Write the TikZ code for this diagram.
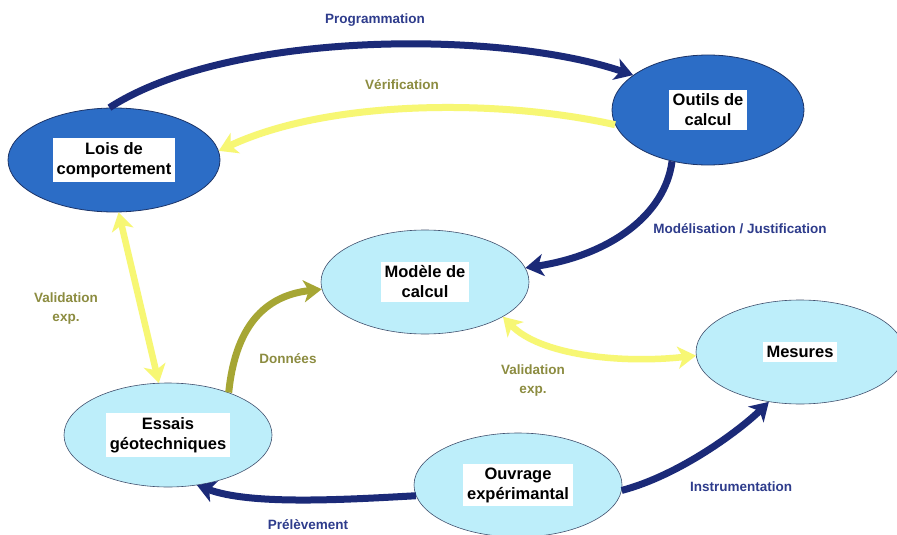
\documentclass[tikz,border=0pt]{standalone}
\usepackage{fontspec}
\setmainfont{Liberation Sans}
\usetikzlibrary{shapes.geometric,arrows.meta}
\definecolor{darkfill}{HTML}{2C6DC6}
\definecolor{darkline}{HTML}{1C3468}
\definecolor{lightfill}{HTML}{BDEEFA}
\definecolor{lightline}{HTML}{41506E}
\definecolor{navy}{HTML}{1B2A78}
\definecolor{navytext}{HTML}{2E3C8C}
\definecolor{paleyellow}{HTML}{F7F774}
\definecolor{olive}{HTML}{A6A634}
\definecolor{olivetext}{HTML}{8C8C40}
\tikzset{
  ell/.style={ellipse, inner sep=0pt},
  darkell/.style={ell, fill=darkfill, draw=darkline, line width=0.8pt},
  lightell/.style={ell, fill=lightfill, draw=lightline, line width=0.6pt},
  txtbox/.style={fill=white, inner sep=4pt, align=center,
    font=\fontsize{16.5}{20}\selectfont\bfseries, text=black},
  lbl/.style={align=center, font=\fontsize{13.5}{19}\selectfont\bfseries},
  navylbl/.style={lbl, text=navytext},
  olivelbl/.style={lbl, text=olivetext},
  flow/.style={line width=7pt, -{Stealth[length=18pt,width=22pt,inset=5pt]}},
  navyflow/.style={flow, draw=navy},
  yellowflow/.style={flow, draw=paleyellow},
  oliveflow/.style={flow, draw=olive},
  twoway/.style={line width=6.5pt, draw=paleyellow,
    {Stealth[length=18pt,width=22pt,inset=5pt]}-{Stealth[length=18pt,width=22pt,inset=5pt]}}
}
\begin{document}
\begin{tikzpicture}[x=1pt,y=-1pt]
\useasboundingbox (0,0) rectangle (897,535);
\fill[white] (0,0) rectangle (897,535);

% ellipses
\node[darkell, minimum width=212pt, minimum height=104pt] (lois) at (114,160) {};
\node[darkell, minimum width=192pt, minimum height=110pt] (outils) at (708,110) {};
\node[lightell, minimum width=208pt, minimum height=104pt] (modele) at (425,282) {};
\node[lightell, minimum width=208pt, minimum height=104pt] (mesures) at (800,352) {};
\node[lightell, minimum width=208pt, minimum height=104pt] (ouvrage) at (518,485) {};
\node[lightell, minimum width=208pt, minimum height=104pt] (essais) at (168,435) {};

% connectors
\draw[navyflow] (lois.95) .. controls (230,30) and (500,30) .. (outils.155);
\draw[yellowflow] (outils.189) .. controls (500,99) and (330,99) .. (lois.5);
\draw[navyflow] (outils.235) .. controls (665,215) and (610,255) .. (modele.8);
\draw[twoway] (lois.275) -- (essais.100);
\draw[oliveflow] (essais.35) .. controls (236,320) and (270,295) .. (modele.184);
\draw[twoway] (modele.-24) .. controls (540,355) and (620,364) .. (mesures.182);
\draw[navyflow] (ouvrage.-3) .. controls (680,475) and (740,430) .. (mesures.238);
\draw[navyflow] (ouvrage.186) .. controls (340,500) and (250,505) .. (essais.-60);

% texts inside the ellipses
\node[txtbox] (loistxt) at (lois) {Lois de\\comportement};
\node[txtbox] (outilstxt) at (outils) {Outils de\\calcul};
\node[txtbox] (modeletxt) at (modele) {Modèle de\\calcul};
\node[txtbox] (mesurestxt) at (mesures) {Mesures};
\node[txtbox] (ouvragetxt) at (ouvrage) {Ouvrage\\expérimantal};
\node[txtbox] (essaistxt) at (essais) {Essais\\géotechniques};

% connector labels
\node[navylbl] (lprog) at (375,20) {Programmation};
\node[olivelbl] (lverif) at (402,85) {Vérification};
\node[navylbl] (lmodel) at (740,229) {Modélisation / Justification};
\node[olivelbl] (lvalg) at (66,309) {Validation\\exp.};
\node[olivelbl] (ldonn) at (288,359) {Données};
\node[olivelbl] (lvald) at (533,381) {Validation\\exp.};
\node[navylbl] (linstr) at (741,487) {Instrumentation};
\node[navylbl] (lprel) at (308,525) {Prélèvement};
\end{tikzpicture}
\end{document}
